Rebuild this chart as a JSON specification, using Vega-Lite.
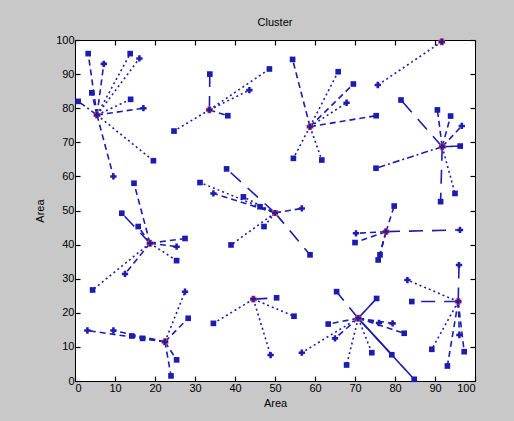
{
  "$schema": "https://vega.github.io/schema/vega-lite/v6.json",
  "width": 400,
  "height": 341,
  "autosize": {"type": "none"},
  "padding": {"left": 75, "top": 40, "right": 39, "bottom": 40},
  "background": "#c8c8c8",
  "config": {
    "font": "Liberation Sans",
    "view": {"stroke": "#000000", "strokeWidth": 1, "fill": "#ffffff"},
    "axis": {"grid": false, "domainColor": "#000000", "tickColor": "#000000", "labelColor": "#000000", "titleColor": "#000000", "labelFontSize": 11, "titleFontSize": 11, "titleFontWeight": "normal", "tickSize": -5, "tickWidth": 1.2, "labelFont": "Liberation Sans", "titleFont": "Liberation Sans"},
    "title": {"fontSize": 11, "fontWeight": "normal", "color": "#000000", "font": "Liberation Sans", "offset": 6}
  },
  "title": "Cluster",
  "datasets": {
    "pts": [
      {"cx": 5.5, "cy": 78, "x": 3.3, "y": 96, "ls": "dashed", "mk": "dot"},
      {"cx": 5.5, "cy": 78, "x": 4.2, "y": 84.5, "ls": "dashed", "mk": "dot"},
      {"cx": 5.5, "cy": 78, "x": 0.8, "y": 82, "ls": "dashdot", "mk": "dot"},
      {"cx": 5.5, "cy": 78, "x": 7.2, "y": 93, "ls": "dashed", "mk": "plus"},
      {"cx": 5.5, "cy": 78, "x": 13.8, "y": 96, "ls": "dotted", "mk": "dot"},
      {"cx": 5.5, "cy": 78, "x": 16.1, "y": 94.6, "ls": "dotted", "mk": "plus"},
      {"cx": 5.5, "cy": 78, "x": 13.9, "y": 82.6, "ls": "dotted", "mk": "dot"},
      {"cx": 5.5, "cy": 78, "x": 17.1, "y": 80, "ls": "dashed", "mk": "plus"},
      {"cx": 5.5, "cy": 78, "x": 19.6, "y": 64.6, "ls": "dotted", "mk": "dot"},
      {"cx": 5.5, "cy": 78, "x": 9.6, "y": 60, "ls": "dashed", "mk": "plus"},
      {"cx": 33.6, "cy": 79.5, "x": 33.7, "y": 90, "ls": "longdash", "mk": "dot"},
      {"cx": 33.6, "cy": 79.5, "x": 38.2, "y": 77.8, "ls": "dashed", "mk": "dot"},
      {"cx": 33.6, "cy": 79.5, "x": 43.6, "y": 85.3, "ls": "dotted", "mk": "plus"},
      {"cx": 33.6, "cy": 79.5, "x": 48.6, "y": 91.5, "ls": "dotted", "mk": "dot"},
      {"cx": 33.6, "cy": 79.5, "x": 24.75, "y": 73.3, "ls": "dotted", "mk": "dot"},
      {"cx": 58.75, "cy": 74.6, "x": 54.4, "y": 94.3, "ls": "dashed", "mk": "dot"},
      {"cx": 58.75, "cy": 74.6, "x": 65.8, "y": 90.7, "ls": "dotted", "mk": "dot"},
      {"cx": 58.75, "cy": 74.6, "x": 69.6, "y": 87.1, "ls": "dashed", "mk": "dot"},
      {"cx": 58.75, "cy": 74.6, "x": 67.9, "y": 81.6, "ls": "dotted", "mk": "plus"},
      {"cx": 58.75, "cy": 74.6, "x": 75.3, "y": 77.8, "ls": "dashed", "mk": "dot"},
      {"cx": 58.75, "cy": 74.6, "x": 54.6, "y": 65.3, "ls": "dotted", "mk": "dot"},
      {"cx": 58.75, "cy": 74.6, "x": 61.7, "y": 64.8, "ls": "dotted", "mk": "dot"},
      {"cx": 91.7, "cy": 99.5, "x": 75.7, "y": 86.8, "ls": "dotted", "mk": "plus"},
      {"cx": 91.8, "cy": 68.7, "x": 81.5, "y": 82.4, "ls": "longdash", "mk": "dot"},
      {"cx": 91.8, "cy": 68.7, "x": 90.6, "y": 79.5, "ls": "dashed", "mk": "dot"},
      {"cx": 91.8, "cy": 68.7, "x": 93.9, "y": 77.7, "ls": "dashed", "mk": "dot"},
      {"cx": 91.8, "cy": 68.7, "x": 96.7, "y": 74.8, "ls": "dashed", "mk": "plus"},
      {"cx": 91.8, "cy": 68.7, "x": 96.3, "y": 68.9, "ls": "solid", "mk": "dot"},
      {"cx": 91.8, "cy": 68.7, "x": 75.25, "y": 62.4, "ls": "dashdot", "mk": "dot"},
      {"cx": 91.8, "cy": 68.7, "x": 91.4, "y": 52.6, "ls": "longdash", "mk": "dot"},
      {"cx": 91.8, "cy": 68.7, "x": 95, "y": 55, "ls": "dotted", "mk": "dot"},
      {"cx": 50, "cy": 49.3, "x": 37.9, "y": 62.2, "ls": "longdash", "mk": "dot"},
      {"cx": 50, "cy": 49.3, "x": 31.25, "y": 58.2, "ls": "dotted", "mk": "dot"},
      {"cx": 50, "cy": 49.3, "x": 34.6, "y": 55, "ls": "dashed", "mk": "plus"},
      {"cx": 50, "cy": 49.3, "x": 42.1, "y": 54, "ls": "dotted", "mk": "dot"},
      {"cx": 50, "cy": 49.3, "x": 46.25, "y": 51.1, "ls": "dashed", "mk": "dot"},
      {"cx": 50, "cy": 49.3, "x": 56.7, "y": 50.6, "ls": "dashed", "mk": "plus"},
      {"cx": 50, "cy": 49.3, "x": 47.25, "y": 45.3, "ls": "dotted", "mk": "dot"},
      {"cx": 50, "cy": 49.3, "x": 39, "y": 39.9, "ls": "dotted", "mk": "dot"},
      {"cx": 50, "cy": 49.3, "x": 58.75, "y": 37, "ls": "longdash", "mk": "dot"},
      {"cx": 18.75, "cy": 40.4, "x": 14.75, "y": 58, "ls": "dashed", "mk": "dot"},
      {"cx": 18.75, "cy": 40.4, "x": 11.7, "y": 49.2, "ls": "longdash", "mk": "dot"},
      {"cx": 18.75, "cy": 40.4, "x": 15.8, "y": 45.3, "ls": "dashed", "mk": "dot"},
      {"cx": 18.75, "cy": 40.4, "x": 27.5, "y": 41.8, "ls": "dashed", "mk": "dot"},
      {"cx": 18.75, "cy": 40.4, "x": 25.4, "y": 39.4, "ls": "dashed", "mk": "plus"},
      {"cx": 18.75, "cy": 40.4, "x": 25.4, "y": 35.3, "ls": "dotted", "mk": "dot"},
      {"cx": 18.75, "cy": 40.4, "x": 12.5, "y": 31.4, "ls": "dashed", "mk": "plus"},
      {"cx": 18.75, "cy": 40.4, "x": 4.4, "y": 26.7, "ls": "dotted", "mk": "dot"},
      {"cx": 77.75, "cy": 43.8, "x": 79.8, "y": 51.3, "ls": "dashed", "mk": "dot"},
      {"cx": 77.75, "cy": 43.8, "x": 70.25, "y": 43.3, "ls": "dashed", "mk": "plus"},
      {"cx": 77.75, "cy": 43.8, "x": 70, "y": 40.6, "ls": "dashed", "mk": "dot"},
      {"cx": 77.75, "cy": 43.8, "x": 76.25, "y": 37, "ls": "dashed", "mk": "dot"},
      {"cx": 77.75, "cy": 43.8, "x": 75.8, "y": 35.5, "ls": "dashed", "mk": "dot"},
      {"cx": 77.75, "cy": 43.8, "x": 96.25, "y": 44.3, "ls": "longdash", "mk": "plus"},
      {"cx": 22.5, "cy": 11.5, "x": 3.1, "y": 14.8, "ls": "dashed", "mk": "plus"},
      {"cx": 22.5, "cy": 11.5, "x": 9.6, "y": 14.8, "ls": "dashed", "mk": "plus"},
      {"cx": 22.5, "cy": 11.5, "x": 14.2, "y": 13.2, "ls": "dashed", "mk": "dot"},
      {"cx": 22.5, "cy": 11.5, "x": 16.9, "y": 12.5, "ls": "dashed", "mk": "dot"},
      {"cx": 22.5, "cy": 11.5, "x": 27.5, "y": 26.2, "ls": "dotted", "mk": "plus"},
      {"cx": 22.5, "cy": 11.5, "x": 28.3, "y": 18.4, "ls": "dashed", "mk": "dot"},
      {"cx": 22.5, "cy": 11.5, "x": 25.4, "y": 6.2, "ls": "dashed", "mk": "dot"},
      {"cx": 22.5, "cy": 11.5, "x": 24, "y": 1.5, "ls": "dashed", "mk": "dot"},
      {"cx": 44.6, "cy": 24, "x": 34.6, "y": 16.9, "ls": "dotted", "mk": "dot"},
      {"cx": 44.6, "cy": 24, "x": 50.4, "y": 24.4, "ls": "longdash", "mk": "dot"},
      {"cx": 44.6, "cy": 24, "x": 54.75, "y": 19, "ls": "dotted", "mk": "dot"},
      {"cx": 44.6, "cy": 24, "x": 48.9, "y": 7.6, "ls": "dotted", "mk": "plus"},
      {"cx": 70.8, "cy": 18.4, "x": 65.4, "y": 26.2, "ls": "longdash", "mk": "dot"},
      {"cx": 70.8, "cy": 18.4, "x": 75.4, "y": 24.2, "ls": "solid", "mk": "dot"},
      {"cx": 70.8, "cy": 18.4, "x": 63.3, "y": 16.7, "ls": "dashed", "mk": "dot"},
      {"cx": 70.8, "cy": 18.4, "x": 56.7, "y": 8.3, "ls": "dotted", "mk": "plus"},
      {"cx": 70.8, "cy": 18.4, "x": 65, "y": 12.5, "ls": "dashed", "mk": "plus"},
      {"cx": 70.8, "cy": 18.4, "x": 67.9, "y": 4.7, "ls": "dotted", "mk": "dot"},
      {"cx": 70.8, "cy": 18.4, "x": 74.2, "y": 8.3, "ls": "dotted", "mk": "dot"},
      {"cx": 70.8, "cy": 18.4, "x": 84.8, "y": 0.5, "ls": "solid", "mk": "dot"},
      {"cx": 70.8, "cy": 18.4, "x": 79.2, "y": 7.7, "ls": "solid", "mk": "dot"},
      {"cx": 70.8, "cy": 18.4, "x": 79.4, "y": 16.9, "ls": "dashed", "mk": "plus"},
      {"cx": 70.8, "cy": 18.4, "x": 82.3, "y": 14, "ls": "dashed", "mk": "dot"},
      {"cx": 70.8, "cy": 18.4, "x": 76, "y": 17, "ls": "dashed", "mk": "plus"},
      {"cx": 95.8, "cy": 23.3, "x": 83.1, "y": 29.6, "ls": "dotted", "mk": "plus"},
      {"cx": 95.8, "cy": 23.3, "x": 96, "y": 34, "ls": "longdash", "mk": "plus"},
      {"cx": 95.8, "cy": 23.3, "x": 84.2, "y": 23.3, "ls": "longdash", "mk": "dot"},
      {"cx": 95.8, "cy": 23.3, "x": 89.2, "y": 9.3, "ls": "dotted", "mk": "dot"},
      {"cx": 95.8, "cy": 23.3, "x": 93.1, "y": 4.4, "ls": "dashed", "mk": "dot"},
      {"cx": 95.8, "cy": 23.3, "x": 96.1, "y": 13.5, "ls": "dashed", "mk": "plus"},
      {"cx": 95.8, "cy": 23.3, "x": 97.3, "y": 8.6, "ls": "dashed", "mk": "dot"}
    ],
    "centers": [
      {"cx": 5.5, "cy": 78, "kind": "circle"},
      {"cx": 33.6, "cy": 79.5, "kind": "circle"},
      {"cx": 58.75, "cy": 74.6, "kind": "circle"},
      {"cx": 91.7, "cy": 99.5, "kind": "circle"},
      {"cx": 91.8, "cy": 68.7, "kind": "circle"},
      {"cx": 50, "cy": 49.3, "kind": "square"},
      {"cx": 18.75, "cy": 40.4, "kind": "circle"},
      {"cx": 77.75, "cy": 43.8, "kind": "circle"},
      {"cx": 22.5, "cy": 11.5, "kind": "circle"},
      {"cx": 44.6, "cy": 24, "kind": "circle"},
      {"cx": 70.8, "cy": 18.4, "kind": "circle"},
      {"cx": 95.8, "cy": 23.3, "kind": "circle"}
    ]
  },
  "layer": [
    {
      "data": {"name": "pts"},
      "mark": {"type": "rule", "color": "#1c1cb0", "strokeWidth": 1.6},
      "encoding": {
        "x": {"field": "cx", "type": "quantitative", "scale": {"domain": [0, 100], "nice": false}, "axis": {"orient": "bottom", "values": [0,10,20,30,40,50,60,70,80,90,100], "title": "Area", "labelPadding": 6, "titlePadding": 4}},
        "y": {"field": "cy", "type": "quantitative", "scale": {"domain": [0, 100], "nice": false}, "axis": {"orient": "left", "values": [0,10,20,30,40,50,60,70,80,90,100], "title": "Area", "labelPadding": 6, "titlePadding": 10}},
        "x2": {"field": "x"},
        "y2": {"field": "y"},
        "strokeDash": {"field": "ls", "type": "nominal", "legend": null, "scale": {"domain": ["solid", "dashed", "dotted", "dashdot", "longdash"], "range": [[1, 0], [6, 4], [2, 3], [7, 3, 2, 3], [14, 9]]}}
      }
    },
    {
      "data": {"name": "pts"},
      "mark": {"type": "point", "filled": true, "color": "#1c1cb0", "opacity": 1},
      "encoding": {
        "x": {"field": "x", "type": "quantitative", "axis": {"orient": "top", "values": [0,10,20,30,40,50,60,70,80,90,100], "labels": false, "title": null, "domain": false}},
        "y": {"field": "y", "type": "quantitative", "axis": {"orient": "right", "values": [0,10,20,30,40,50,60,70,80,90,100], "labels": false, "title": null, "domain": false}},
        "shape": {"field": "mk", "type": "nominal", "legend": null, "scale": {"domain": ["plus", "dot"], "range": ["cross", "square"]}},
        "size": {"field": "mk", "type": "nominal", "legend": null, "scale": {"domain": ["plus", "dot"], "range": [40, 16]}}
      }
    },
    {
      "data": {"name": "centers"},
      "mark": {"type": "point", "filled": false, "stroke": "#e8423c", "fill": null, "strokeWidth": 2, "opacity": 1},
      "encoding": {
        "x": {"field": "cx", "type": "quantitative", "axis": null},
        "y": {"field": "cy", "type": "quantitative", "axis": null},
        "shape": {"field": "kind", "type": "nominal", "legend": null, "scale": {"domain": ["circle", "square"], "range": ["circle", "square"]}},
        "size": {"field": "kind", "type": "nominal", "legend": null, "scale": {"domain": ["circle", "square"], "range": [80, 120]}}
      }
    },
    {
      "data": {"name": "centers"},
      "mark": {"type": "point", "filled": true, "color": "#1c1cb0", "shape": "cross", "size": 35, "opacity": 1},
      "encoding": {
        "x": {"field": "cx", "type": "quantitative", "axis": null},
        "y": {"field": "cy", "type": "quantitative", "axis": null}
      }
    }
  ],
  "resolve": {"axis": {"x": "independent", "y": "independent"}}
}
